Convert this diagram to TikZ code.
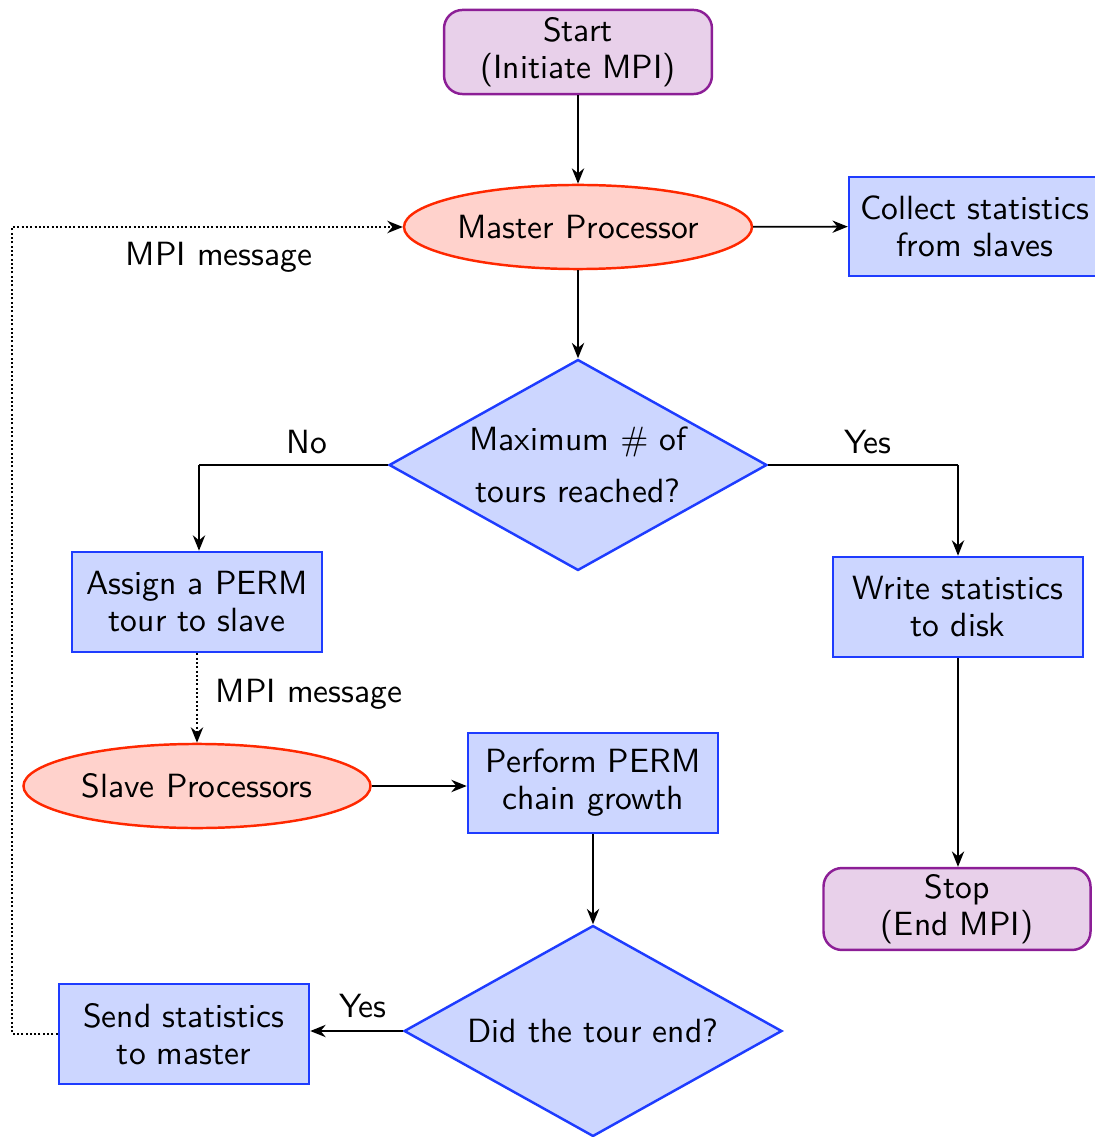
\documentclass[tikz,border=0pt]{standalone}
\usetikzlibrary{shapes.geometric,arrows.meta}
\definecolor{bborder}{RGB}{30,60,255}
\definecolor{bfill}{RGB}{204,214,255}
\definecolor{rborder}{RGB}{255,40,0}
\definecolor{rfill}{RGB}{255,210,204}
\definecolor{pborder}{RGB}{140,30,150}
\definecolor{pfill}{RGB}{232,208,234}
\tikzset{
  every node/.style={font=\sffamily\fontsize{10.9}{12}\selectfont},
  termbox/.style={draw=pborder, fill=pfill, thick, rounded corners=6pt, align=center, inner sep=1pt},
  procbox/.style={draw=bborder, fill=bfill, thick, align=center, inner sep=1pt, minimum width=81.2pt, minimum height=32.5pt},
  ellbox/.style={ellipse, draw=rborder, fill=rfill, thick, inner sep=0pt, minimum width=113pt, minimum height=27.3pt},
  decbox/.style={diamond, draw=bborder, fill=bfill, thick, align=center, inner sep=0pt, aspect=1.79, minimum width=122.7pt, minimum height=68.5pt},
  conn/.style={semithick, -{Stealth[length=5pt,width=4pt]}},
  dconn/.style={line width=0.65pt, dash pattern=on 0.65pt off 0.75pt},
  lbl/.style={inner sep=1pt}
}
\begin{document}
\begin{tikzpicture}[x=0.3247pt, y=-0.3247pt]
\useasboundingbox (0,0) rectangle (1094,1137);
\node[termbox, minimum width=87pt, minimum height=27.3pt] (start) at (578,52) {Start\\(Initiate MPI)};
\node[ellbox] (master) at (578,227) {Master Processor};
\node[procbox, minimum width=81.8pt, minimum height=32.1pt] (collect) at (975,226.5) {Collect statistics\\from slaves};
\node[decbox] (maxq) at (578,465) {Maximum $\#$ of\\[5pt]tours reached?};
\node[procbox] (assign) at (197,602) {Assign a PERM\\tour to slave};
\node[procbox] (write) at (958,607) {Write statistics\\to disk};
\node[ellbox, minimum width=112.7pt] (slave) at (197,786) {Slave Processors};
\node[procbox] (perform) at (593,783) {Perform PERM\\chain growth};
\node[termbox, minimum width=86.7pt, minimum height=26.6pt] (stop) at (957,909) {Stop\\(End MPI)};
\node[decbox] (endq) at (593,1031) {Did the tour end?};
\node[procbox] (send) at (184,1034) {Send statistics\\to master};

\coordinate (noc) at (199,465);
\coordinate (yesc) at (958,465);
\coordinate (lbot) at (12,1034);
\coordinate (ltop) at (12,227);

\draw[conn] (start) -- (master);
\draw[conn] (master) -- (collect);
\draw[conn] (master) -- (maxq);
\draw[semithick] (maxq.west) -- (noc);
\draw[conn] (noc) -- (noc |- assign.north);
\draw[semithick] (maxq.east) -- (yesc);
\draw[conn] (yesc) -- (write.north);
\draw[conn] (write.south) -- (write.south |- stop.north);
\draw[dconn, -{Stealth[length=5pt,width=4pt]}] (assign) -- (slave);
\draw[conn] (slave.east) -- (slave.east -| perform.west);
\draw[conn] (perform) -- (endq);
\draw[conn] (endq.west) -- (endq.west -| send.east);
\draw[dconn, -{Stealth[length=5pt,width=4pt]}] (send.west) -- (lbot) -- (ltop) -- (master.west);

\node[lbl] (nolbl) at (307,442) {No};
\node[lbl] (yeslbl) at (868,442) {Yes};
\node[lbl] (yes2lbl) at (363,1006) {Yes};
\node[lbl, anchor=west] (mpi1) at (122,257) {MPI message};
\node[lbl, anchor=west] (mpi2) at (212,694) {MPI message};
\end{tikzpicture}
\end{document}
